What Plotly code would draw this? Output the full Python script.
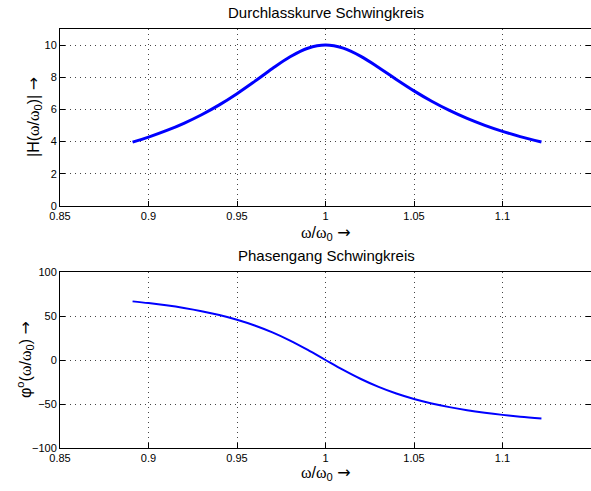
import plotly.graph_objects as go

# frequency ratio omega/omega0
x_ratio = [0.891, 0.90, 0.91, 0.92, 0.93, 0.94, 0.95, 0.96, 0.97, 0.98, 0.99, 1.00,
           1.01, 1.02, 1.03, 1.04, 1.05, 1.06, 1.07, 1.08, 1.09, 1.10, 1.11, 1.122]
# magnitude |H|
magnitude = [3.968, 4.281, 4.679, 5.138, 5.670, 6.283, 6.979, 7.745, 8.540, 9.272, 9.804, 10.0,
             9.808, 9.297, 8.608, 7.867, 7.156, 6.510, 5.940, 5.444, 5.014, 4.640, 4.314, 3.977]
# phase in degrees
phase = [66.62, 64.65, 62.10, 59.08, 55.46, 51.08, 45.74, 39.24, 31.35, 22.0, 11.37, 0.0,
         -11.26, -21.61, -30.59, -38.12, -44.31, -49.39, -53.56, -57.02, -59.91, -62.36, -64.44, -66.57]

x_ticks = [0.85, 0.9, 0.95, 1.0, 1.05, 1.1]
x_ticklabels = ["0.85", "0.9", "0.95", "1", "1.05", "1.1"]
mag_ticks = [0, 2, 4, 6, 8, 10]
phase_ticks = [-100, -50, 0, 50, 100]
phase_ticklabels = ["\u2212100", "\u221250", "0", "50", "100"]

W, H = 591, 491
FONT = "Liberation Sans, Arial, Helvetica, sans-serif"
SERIF = "Liberation Serif, Times New Roman, serif"

fig = go.Figure()
fig.add_trace(go.Scatter(x=x_ratio, y=magnitude, mode="lines", line=dict(color="#0000ff", width=3, shape="spline"),
                         xaxis="x", yaxis="y", showlegend=False, hoverinfo="skip"))
fig.add_trace(go.Scatter(x=x_ratio, y=phase, mode="lines", line=dict(color="#0000ff", width=2, shape="spline"),
                         xaxis="x2", yaxis="y2", showlegend=False, hoverinfo="skip"))

left = 60 / W
def ydom(top, bottom):
    return [1 - bottom / H, 1 - top / H]

GRID = "#444"
common_x = dict(range=[0.85, 1.15], tickvals=x_ticks, ticktext=x_ticklabels, ticks="inside", ticklen=5,
                tickcolor="#000", showline=True, linecolor="#000", linewidth=1, mirror=True,
                showgrid=True, gridcolor=GRID, griddash="1px,4px", gridwidth=1, zeroline=False,
                automargin=False, fixedrange=True,
                tickfont=dict(size=11, color="#000", family=FONT), domain=[left, 1])
common_y = dict(ticks="inside", ticklen=5, tickcolor="#000", showline=True, linecolor="#000", linewidth=1,
                mirror="ticks", showgrid=True, gridcolor=GRID, griddash="1px,4px", gridwidth=1, zeroline=False,
                automargin=False, fixedrange=True,
                tickfont=dict(size=11, color="#000", family=FONT))

fig.update_layout(
    width=W, height=H, margin=dict(l=0, r=0, t=0, b=0, autoexpand=False),
    paper_bgcolor="white", plot_bgcolor="white",
    font=dict(family=FONT, color="#000"),
    xaxis=dict(anchor="y", **common_x),
    yaxis=dict(anchor="x", range=[0, 11], tickvals=mag_ticks, domain=ydom(29, 206), **common_y),
    xaxis2=dict(anchor="y2", **common_x),
    yaxis2=dict(anchor="x2", range=[-100, 100], tickvals=phase_ticks, ticktext=phase_ticklabels,
                domain=ydom(272, 448), **common_y),
)

w = f"<span style='font-family:{SERIF}'>\u03c9</span>"
arrow = "<span style='font-family:DejaVu Sans'>\u2192</span>"
xlabel = f"{w}/{w}<sub>0</sub> {arrow}"

cx = (60 + 592) / 2 / W
ann = [
    dict(text="Durchlasskurve Schwingkreis", x=cx, y=1 - 13 / H, font=dict(size=15)),
    dict(text="Phasengang Schwingkreis", x=cx, y=1 - 255 / H, font=dict(size=15)),
    dict(text=xlabel, x=cx, y=1 - 233 / H, font=dict(size=16)),
    dict(text=xlabel, x=cx, y=1 - 473 / H, font=dict(size=16)),
    dict(text=f"|H({w}/{w}<sub>0</sub>)| {arrow}", x=34 / W, y=1 - 117 / H, textangle=-90, font=dict(size=16)),
    dict(text=f"\u03c6<sup>o</sup>({w}/{w}<sub>0</sub>) {arrow}", x=25 / W, y=1 - 360 / H, textangle=-90,
         font=dict(size=16)),
]
for a in ann:
    fig.add_annotation(xref="paper", yref="paper", showarrow=False, xanchor="center", yanchor="middle",
                       font_family=FONT, font_color="#000", **a)

fig.write_html("out.html", config={"displayModeBar": False, "staticPlot": True},
               post_script="document.body.style.margin='0';document.body.style.overflow='hidden';")
